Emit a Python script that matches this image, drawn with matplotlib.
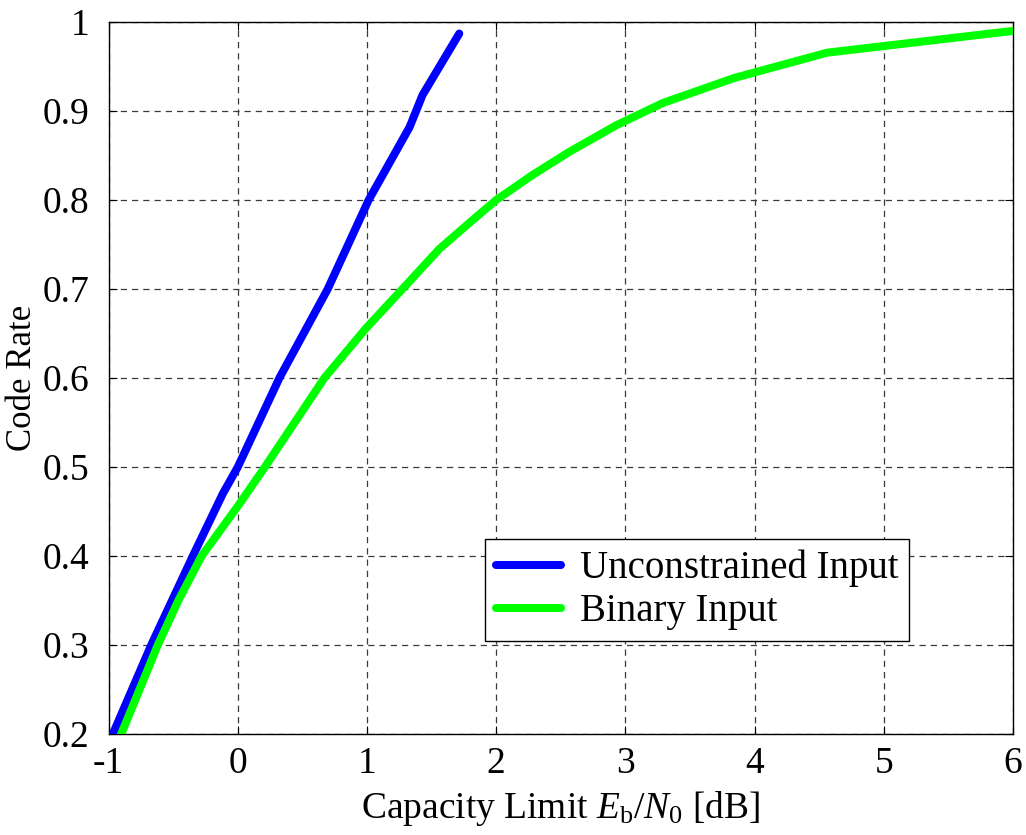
import matplotlib
matplotlib.use("Agg")
import matplotlib.pyplot as plt

# Capacity limits: required Eb/N0 (dB) versus code rate
unconstrained_ebn0 = [-0.967, -0.67, -0.348, -0.116, 0.0, 0.322, 0.696, 1.013, 1.33, 1.43, 1.714]
unconstrained_rate = [0.20, 0.30, 0.40, 0.47, 0.50, 0.60, 0.70, 0.80, 0.882, 0.918, 0.987]

binary_ebn0 = [-0.902, -0.619, -0.46, -0.28, 0.0, 0.21, 0.67, 0.993, 1.30, 1.56, 1.79,
               2.0, 2.28, 2.565, 2.93, 3.29, 3.84, 4.56, 6.0]
binary_rate = [0.20, 0.30, 0.35, 0.40, 0.456, 0.50, 0.60, 0.656, 0.704, 0.745, 0.774,
               0.80, 0.828, 0.854, 0.884, 0.909, 0.937, 0.9655, 0.990]

series_labels = ["Unconstrained Input", "Binary Input"]
x_ticks = [-1, 0, 1, 2, 3, 4, 5, 6]
x_tick_labels = ["-1", "0", "1", "2", "3", "4", "5", "6"]
y_ticks = [0.2, 0.3, 0.4, 0.5, 0.6, 0.7, 0.8, 0.9, 1.0]
y_tick_labels = ["0.2", "0.3", "0.4", "0.5", "0.6", "0.7", "0.8", "0.9", "1"]

plt.rcParams["font.family"] = ["Liberation Serif", "DejaVu Serif"]
plt.rcParams["mathtext.fontset"] = "custom"
plt.rcParams["mathtext.rm"] = "Liberation Serif"
plt.rcParams["mathtext.it"] = "Liberation Serif:italic"

FS = 27

fig = plt.figure(figsize=(10.26, 8.35), dpi=100)
ax = fig.add_axes([108.6 / 1026, 101 / 835, (1013 - 108.6) / 1026, (734 - 22) / 835])

ax.plot(unconstrained_ebn0, unconstrained_rate, color=(0, 0, 1), lw=5.8,
        solid_capstyle="round", solid_joinstyle="round", label=series_labels[0], zorder=3)
ax.plot(binary_ebn0, binary_rate, color=(0, 1, 0), lw=5.8,
        solid_capstyle="round", solid_joinstyle="round", label=series_labels[1], zorder=3)

ax.set_xlim(-1, 6)
ax.set_ylim(0.2, 1.0)
ax.set_xticks(x_ticks)
ax.set_xticklabels(x_tick_labels)
ax.set_yticks(y_ticks)
ax.set_yticklabels(y_tick_labels)

ax.tick_params(direction="in", length=6, width=0.8, top=True, right=True,
               labelsize=FS, colors="black")
ax.tick_params(axis="x", pad=9)
ax.tick_params(axis="y", pad=14)
for s in ax.spines.values():
    s.set_linewidth(1.0)
    s.set_color("black")

ax.grid(True, color="#3a3a3a", linestyle=(0, (5, 4)), linewidth=0.9)
ax.set_axisbelow(True)

ax.set_xlabel(r"Capacity Limit $\mathit{E}_\mathrm{b}/\mathit{N}_0$ [dB]", fontsize=FS, labelpad=6)
ax.set_ylabel("Code Rate", fontsize=25)
ax.yaxis.label.set_va("center")
ax.yaxis.set_label_coords(-0.095, 0.5)

leg = ax.legend(loc="upper left", bbox_to_anchor=(0.416, 0.274), borderaxespad=0,
                fontsize=28, handlelength=1.67, handletextpad=0.5, labelspacing=0.15,
                borderpad=0.28, fancybox=False, framealpha=1, edgecolor="black")
leg.get_frame().set_linewidth(1.0)

fig.savefig("out.png", dpi=100)
